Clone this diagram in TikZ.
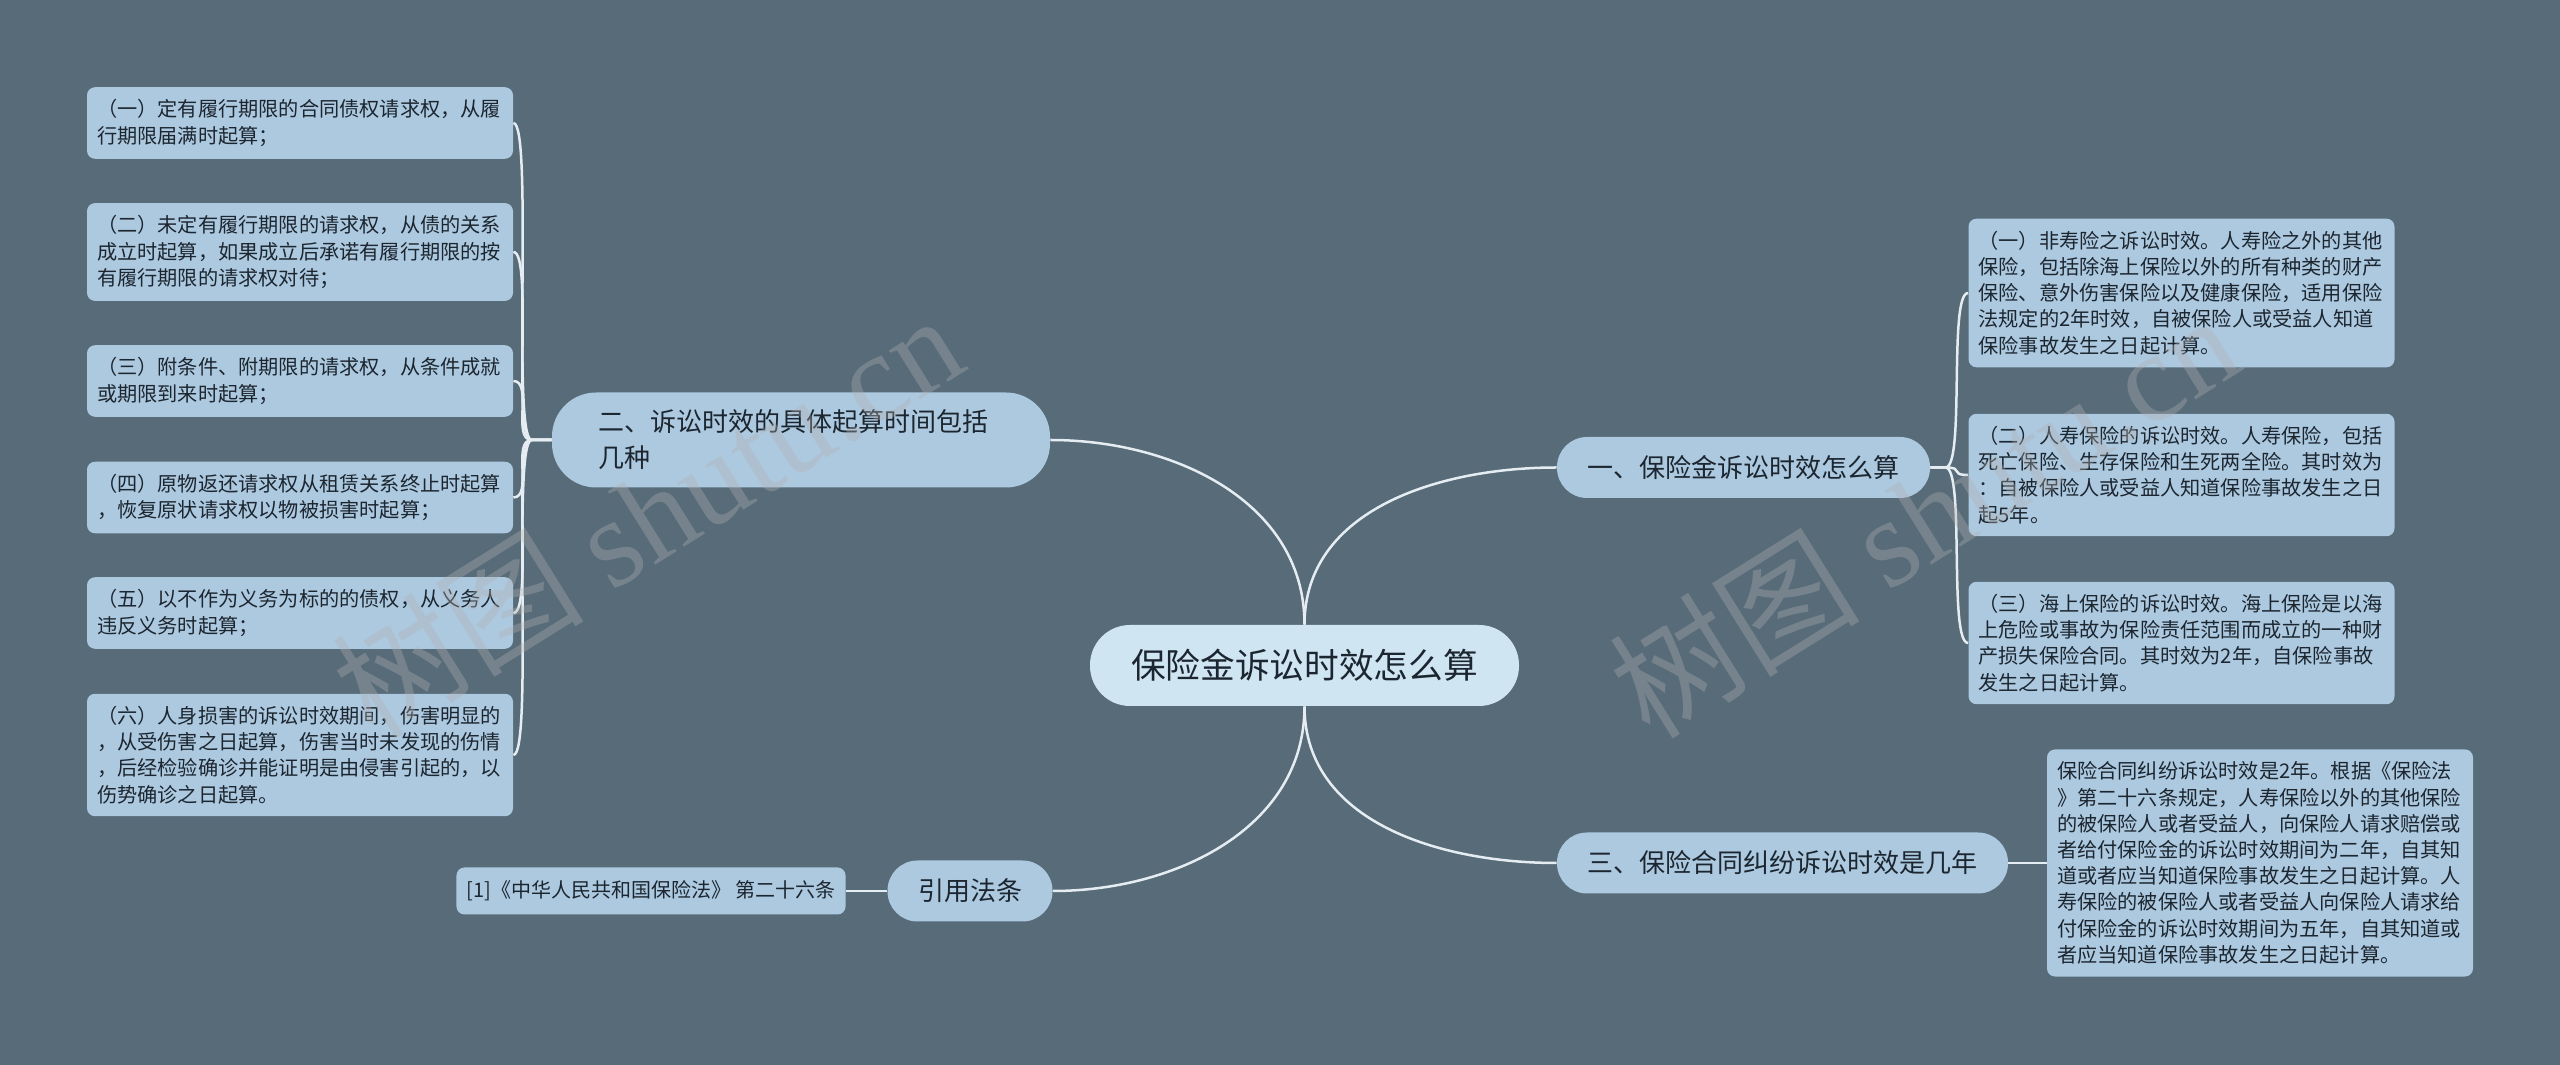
\documentclass[tikz,border=0pt]{standalone}
\usepackage{fontspec}
\setmainfont{Noto Sans CJK SC}
\newfontfamily\wmfont{Liberation Serif}

\definecolor{bgslate}{RGB}{87,107,120}
\definecolor{leafblue}{RGB}{173,201,223}
\definecolor{rootblue}{RGB}{207,229,241}
\definecolor{ink}{RGB}{28,38,48}
\definecolor{linkwhite}{RGB}{229,237,242}

\tikzset{
  leaf/.style={fill=leafblue, text=ink, rounded corners=4pt, text width=203pt,
    align=left, inner xsep=5pt, inner ysep=6.2pt, font=\fontsize{10.1}{13.1}\selectfont},
  cite/.style={fill=leafblue, text=ink, rounded corners=4pt, inner xsep=5pt,
    minimum height=23.5pt, font=\fontsize{10}{12}\selectfont},
  branch/.style={fill=leafblue, text=ink, rounded corners=15pt, inner xsep=15.25pt,
    minimum height=30.5pt, font=\fontsize{13}{17}\selectfont},
  rootnode/.style={fill=rootblue, text=ink, rounded corners=20pt, inner xsep=20.5pt,
    minimum height=40.5pt, font=\fontsize{17.35}{20}\selectfont},
  link/.style={draw=linkwhite, line width=1.25pt},
  watermark/.style={text=gray!60, opacity=0.35, rotate=32, font=\fontsize{63}{63}\selectfont}
}

\begin{document}
\begin{tikzpicture}[x=50pt,y=50pt]

    % Background
    \fill[bgslate] (0,0) rectangle (25.6,10.65);
    \useasboundingbox (0,0) rectangle (25.6,10.65);

    % Central topic
    \node[rootnode] (root) at (13.045,3.995) {保险金诉讼时效怎么算};

    % Main branches
    \node[branch, text width=203pt, align=left, inner xsep=23pt, minimum height=47.5pt,
      rounded corners=22pt, font=\fontsize{13}{18}\selectfont] (b2) at (8.01,6.25)
      {二、诉讼时效的具体起算时间包括\\几种};
    \node[branch] (b1) at (17.435,5.975) {一、保险金诉讼时效怎么算};
    \node[branch] (b3) at (17.825,2.02) {三、保险合同纠纷诉讼时效是几年};
    \node[branch] (b4) at (9.70,1.74) {引用法条};

    % Left leaves
    \node[leaf] (l1) at (3.00,9.42) {（一）定有履行期限的合同债权请求权，从履\\行期限届满时起算；};
    \node[leaf] (l2) at (3.00,8.13) {（二）未定有履行期限的请求权，从债的关系\\成立时起算，如果成立后承诺有履行期限的按\\有履行期限的请求权对待；};
    \node[leaf] (l3) at (3.00,6.84) {（三）附条件、附期限的请求权，从条件成就\\或期限到来时起算；};
    \node[leaf] (l4) at (3.00,5.675) {（四）原物返还请求权从租赁关系终止时起算\\，恢复原状请求权以物被损害时起算；};
    \node[leaf] (l5) at (3.00,4.52) {（五）以不作为义务为标的的债权，从义务人\\违反义务时起算；};
    \node[leaf] (l6) at (3.00,3.10) {（六）人身损害的诉讼时效期间，伤害明显的\\，从受伤害之日起算，伤害当时未发现的伤情\\，后经检验确诊并能证明是由侵害引起的，以\\伤势确诊之日起算。};

    % Right leaves
    \node[leaf] (r1) at (21.815,7.72) {（一）非寿险之诉讼时效。人寿险之外的其他\\保险，包括除海上保险以外的所有种类的财产\\保险、意外伤害保险以及健康保险，适用保险\\法规定的2年时效，自被保险人或受益人知道\\保险事故发生之日起计算。};
    \node[leaf] (r2) at (21.815,5.90) {（二）人寿保险的诉讼时效。人寿保险，包括\\死亡保险、生存保险和生死两全险。其时效为\\：自被保险人或受益人知道保险事故发生之日\\起5年。};
    \node[leaf] (r3) at (21.815,4.22) {（三）海上保险的诉讼时效。海上保险是以海\\上危险或事故为保险责任范围而成立的一种财\\产损失保险合同。其时效为2年，自保险事故\\发生之日起计算。};
    \node[leaf] (r4) at (22.60,2.02) {保险合同纠纷诉讼时效是2年。根据《保险法\\》第二十六条规定，人寿保险以外的其他保险\\的被保险人或者受益人，向保险人请求赔偿或\\者给付保险金的诉讼时效期间为二年，自其知\\道或者应当知道保险事故发生之日起计算。人\\寿保险的被保险人或者受益人向保险人请求给\\付保险金的诉讼时效期间为五年，自其知道或\\者应当知道保险事故发生之日起计算。};

    % Citation
    \node[cite] (cite) at (6.51,1.74) {[1]《中华人民共和国保险法》 第二十六条};

    % Root to branches
    \draw[link] (root.north) to[out=90,in=0] (b2.east);
    \draw[link] (root.north) to[out=90,in=180] (b1.west);
    \draw[link] (root.south) to[out=-90,in=0] (b4.east);
    \draw[link] (root.south) to[out=-90,in=180] (b3.west);

    % Branches to leaves
    \foreach \leaf in {l1,l2,l3,l4,l5,l6}
      \draw[link] (b2.west) -- ++(-0.2,0) .. controls +(-0.2,0) and +(0.2,0) .. (\leaf.east);
    \foreach \leaf in {r1,r2,r3}
      \draw[link] (b1.east) -- ++(0.15,0) .. controls +(0.2,0) and +(-0.2,0) .. (\leaf.west);
    \draw[link] (b3.east) -- (r4.west);
    \draw[link] (b4.west) -- (cite.east);

    % Watermarks
    \node[watermark] (wmL) at (6.47,5.51) {树图 {\wmfont shutu.cn}};
    \node[watermark] (wmR) at (19.23,5.51) {树图 {\wmfont shutu.cn}};

\end{tikzpicture}
\end{document}
